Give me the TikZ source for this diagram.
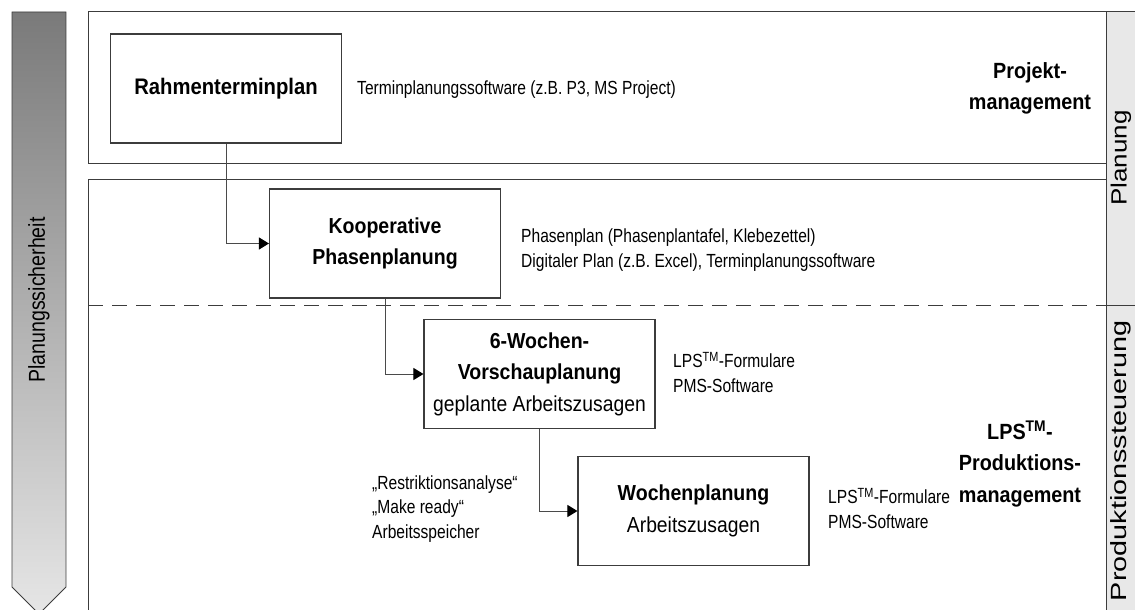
\documentclass[tikz,border=0pt]{standalone}
\usepackage{fontspec}
\setmainfont{Liberation Sans}
\newfontfamily\narrowsf[FakeStretch=0.82]{Liberation Sans}
\newfontfamily\boxsf[FakeStretch=0.89]{Liberation Sans}
\newfontfamily\headsf[FakeStretch=0.9]{Liberation Sans}
\usetikzlibrary{arrows.meta}

\definecolor{framegray}{HTML}{3C3C3C}
\definecolor{conngray}{HTML}{4A4A4A}
\definecolor{stripgray}{HTML}{E8E8E8}
\definecolor{arrowtop}{HTML}{7A7A7A}
\definecolor{arrowbot}{HTML}{E6E6E6}

\newcommand{\headtext}[1]{{\headsf\bfseries #1}}
\newcommand{\plaintext}[1]{{\boxsf #1}}

\tikzset{
  panel/.style={draw=framegray, line width=1pt},
  dashline/.style={draw=framegray, line width=1pt, dash pattern=on 15pt off 9pt},
  stepbox/.style={draw=framegray, line width=1.1pt, fill=white,
    minimum width=231pt, minimum height=109pt, inner sep=0pt,
    align=center, font=\fontsize{21.7}{31.5}\selectfont},
  note/.style={anchor=base west, inner sep=0pt, align=left,
    font=\narrowsf\fontsize{19}{24.5}\selectfont},
  levellabel/.style={inner sep=0pt, align=center, anchor=base,
    font=\headsf\bfseries\fontsize{22}{31.5}\selectfont},
  sidelabel/.style={inner sep=0pt, rotate=90, font=\fontsize{22}{24}\selectfont},
  conn/.style={draw=conngray, line width=1pt,
    -{Triangle[length=10pt,width=12pt,color=black]}},
}

\begin{document}
\begin{tikzpicture}[x=1pt,y=-1pt]
\useasboundingbox (0,0) rectangle (1135,610);
\clip (0,0) rectangle (1135,610);

% planning certainty arrow on the left
\shade[top color=arrowtop, bottom color=arrowbot, draw=framegray, line width=0.8pt]
  (12,12) -- (66,12) -- (66,587) -- (39,614) -- (12,587) -- cycle;
\node[sidelabel, font=\fontsize{23}{24}\selectfont] (certainty) at (39,300)
  {\scalebox{0.85}[1]{Planungssicherheit}};

% level panels
\draw[panel] (88,12) rectangle (1106,163);
\draw[panel] (88,179) rectangle (1106,625);
\draw[dashline] (88,305) -- (1106,305);

% phase strip on the right
\filldraw[fill=stripgray, draw=framegray, line width=1pt] (1106,12) rectangle (1145,625);
\draw[panel] (1106,305) -- (1145,305);
\node[sidelabel] (planung) at (1121,158) {\scalebox{1.18}[1]{Planung}};
\node[sidelabel] (steuerung) at (1121,461) {\scalebox{1.31}[1]{Produktionssteuerung}};

% planning steps
\node[stepbox, font=\fontsize{22.5}{31.5}\selectfont] (rahmen) at (226,88.5)
  {\headtext{Rahmenterminplan}};
\node[stepbox] (koop) at (385,243.5)
  {\headtext{Kooperative}\\\headtext{Phasenplanung}};
\node[stepbox] (vorschau) at (539.5,374)
  {\headtext{6-Wochen-}\\\headtext{Vorschauplanung}\\\plaintext{geplante Arbeitszusagen}};
\node[stepbox] (woche) at (693.5,511)
  {\headtext{Wochenplanung}\\\plaintext{Arbeitszusagen}};

% connectors
\draw[conn] (rahmen.south) |- (koop.west);
\draw[conn] (koop.south) |- (vorschau.west);
\draw[conn] (vorschau.south) |- (woche.west);

% tools and methods (node base = baseline of the last line)
\node[note] (tool1) at (357,95) {Terminplanungssoftware (z.B. P3, MS Project)};
\node[note] (tool2) at (521,267)
  {Phasenplan (Phasenplantafel, Klebezettel)\\Digitaler Plan (z.B. Excel), Terminplanungssoftware};
\node[note] (tool3) at (673,392) {LPS\textsuperscript{TM}-Formulare\\PMS-Software};
\node[note] (tool4) at (372,538)
  {„Restriktionsanalyse“\\„Make ready“\\Arbeitsspeicher};
\node[note] (tool5) at (828,528) {LPS\textsuperscript{TM}-Formulare\\PMS-Software};

% management levels
\node[levellabel] (projekt) at (1030,110) {Projekt-\\management};
\node[levellabel] (lps) at (1020,502)
  {LPS\textsuperscript{TM}-\\Produktions-\\management};
\end{tikzpicture}
\end{document}
